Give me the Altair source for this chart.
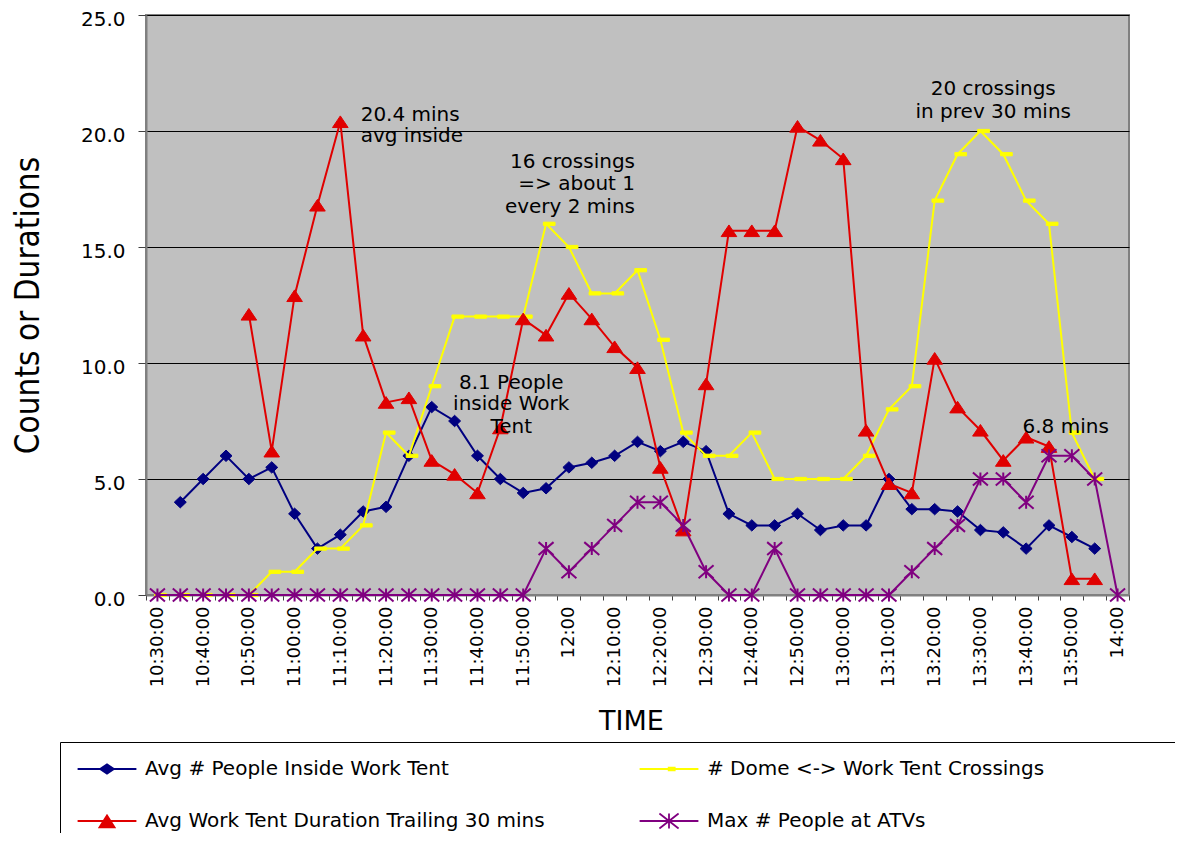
import json
import altair as alt
import pandas as pd

# ---------------- data ----------------
times = [
    "10:30:00", "10:35:00", "10:40:00", "10:45:00", "10:50:00", "10:55:00",
    "11:00:00", "11:05:00", "11:10:00", "11:15:00", "11:20:00", "11:25:00",
    "11:30:00", "11:35:00", "11:40:00", "11:45:00", "11:50:00", "11:55:00",
    "12:00:00", "12:05:00", "12:10:00", "12:15:00", "12:20:00", "12:25:00",
    "12:30:00", "12:35:00", "12:40:00", "12:45:00", "12:50:00", "12:55:00",
    "13:00:00", "13:05:00", "13:10:00", "13:15:00", "13:20:00", "13:25:00",
    "13:30:00", "13:35:00", "13:40:00", "13:45:00", "13:50:00", "13:55:00",
    "14:00:00",
]
tick_labels = [
    "10:30:00", "", "10:40:00", "", "10:50:00", "",
    "11:00:00", "", "11:10:00", "", "11:20:00", "",
    "11:30:00", "", "11:40:00", "", "11:50:00", "",
    "12:00", "", "12:10:00", "", "12:20:00", "",
    "12:30:00", "", "12:40:00", "", "12:50:00", "",
    "13:00:00", "", "13:10:00", "", "13:20:00", "",
    "13:30:00", "", "13:40:00", "", "13:50:00", "",
    "14:00",
]
avg_people = [
    None, 4.0, 5.0, 6.0, 5.0, 5.5, 3.5, 2.0, 2.6, 3.6, 3.8, 6.0,
    8.1, 7.5, 6.0, 5.0, 4.4, 4.6, 5.5, 5.7, 6.0, 6.6, 6.2, 6.6,
    6.2, 3.5, 3.0, 3.0, 3.5, 2.8, 3.0, 3.0, 5.0, 3.7, 3.7, 3.6,
    2.8, 2.7, 2.0, 3.0, 2.5, 2.0, None,
]
crossings = [
    0, 0, 0, 0, 0, 1, 1, 2, 2, 3, 7, 6,
    9, 12, 12, 12, 12, 16, 15, 13, 13, 14, 11, 7,
    6, 6, 7, 5, 5, 5, 5, 6, 8, 9, 17, 19,
    20, 19, 17, 16, 7, 5, None,
]
avg_duration = [
    None, None, None, None, 12.1, 6.2, 12.9, 16.8, 20.4, 11.2, 8.3, 8.5,
    5.8, 5.2, 4.4, 7.2, 11.9, 11.2, 13.0, 11.9, 10.7, 9.8, 5.5, 2.8,
    9.1, 15.7, 15.7, 15.7, 20.2, 19.6, 18.8, 7.1, 4.8, 4.4, 10.2, 8.1,
    7.1, 5.8, 6.8, 6.4, 0.7, 0.7, None,
]
max_atv = [
    0, 0, 0, 0, 0, 0, 0, 0, 0, 0, 0, 0,
    0, 0, 0, 0, 0, 2, 1, 2, 3, 4, 4, 3,
    1, 0, 0, 2, 0, 0, 0, 0, 0, 1, 2, 3,
    5, 5, 4, 6, 6, 5, 0,
]

series_names = [
    "Avg # People Inside Work Tent",
    "# Dome <-> Work Tent Crossings",
    "Avg Work Tent Duration Trailing 30 mins",
    "Max # People at ATVs",
]
series_values = [avg_people, crossings, avg_duration, max_atv]

ann_text = ["20.4 mins", "avg inside",
            "16 crossings", "=> about 1", "every 2 mins",
            "8.1 People", "inside Work", "Tent",
            "20 crossings", "in prev 30 mins",
            "6.8 mins"]
ann_time = ["11:15:00", "11:15:00",
            "12:15:00", "12:15:00", "12:15:00",
            "11:50:00", "11:50:00", "11:50:00",
            "13:35:00", "13:35:00",
            "13:40:00"]
ann_value = [20.7, 19.8,
             18.68, 17.72, 16.74,
             9.15, 8.23, 7.25,
             21.79, 20.82,
             7.22]
ann_group = [0, 0, 1, 1, 1, 2, 2, 2, 3, 3, 4]

# ---------------- styles ----------------
FONT = "DejaVu Sans"
W, H = 983, 580
series_colors = ["#000080", "#FFFF00", "#E00000", "#800080"]
marker_paths = [
    "M0,-0.95 L1,0 L0,0.95 L-1,0 Z",
    "M-0.45,-0.27 L1.5,-0.27 L1.5,0.27 L-0.45,0.27 Z",
    "M0,-0.97 L1.3,0.97 L-1.3,0.97 Z",
    "M-1.25,-1.08 L1.25,1.08 M-1.25,1.08 L1.25,-1.08 M0,-1.08 L0,1.08",
]
marker_stroke_w = [1, 1, 1, 2]

# legend symbols: filled line segment + filled marker (same winding for all parts)
LINE = "M-4.9,-0.17 L-4.9,0.17 L4.9,0.17 L4.9,-0.17 Z "
legend_paths = [
    LINE + "M0,-0.97 L-1.42,0 L0,0.97 L1.42,0 Z",
    LINE + "M-0.2,-0.36 L-0.2,0.36 L1.1,0.36 L1.1,-0.36 Z",
    LINE + "M0,-1.19 L-1.53,1.19 L1.53,1.19 Z",
    LINE + "M-1.692,-1.132 L1.508,1.368 L1.692,1.132 L-1.508,-1.368 Z "
           "M-1.508,1.368 L1.692,-1.132 L1.508,-1.368 L-1.692,1.132 Z "
           "M-0.15,-1.25 L-0.15,1.25 L0.15,1.25 L0.15,-1.25 Z",
]
legend_order = [0, 2, 1, 3]  # legend fills column by column
ann_styles = [("left", -2.5), ("right", -2.5), ("center", -12), ("center", -10), ("left", -3.6)]

# ---------------- tables ----------------
rows = []
for name, vals in zip(series_names, series_values):
    for t, v in zip(times, vals):
        if v is not None:
            rows.append({"time": t, "value": v, "series": name})
df = pd.DataFrame(rows)
ann_df = pd.DataFrame({"time": ann_time, "value": ann_value, "text": ann_text, "group": ann_group})

label_expr = json.dumps(tick_labels) + "[indexof(" + json.dumps(times) + ", datum.value)]"

x_enc = alt.X(
    "time:O", sort=times,
    scale=alt.Scale(type="band", domain=times, paddingInner=0, paddingOuter=0),
    axis=alt.Axis(
        title="TIME", labelExpr=label_expr, labelAngle=270, labelAlign="right",
        labelBaseline="middle", labelFont=FONT, labelFontSize=18, labelPadding=6,
        labelOverlap=False, labelColor="black", tickBand="extent", tickSize=5,
        tickColor="#404040", domainColor="#808080", domainWidth=2, grid=False,
        titleFont=FONT, titleFontSize=27, titleFontWeight="normal", titleColor="black",
        titleX=485, titleY=134, titleBaseline="alphabetic", titleAlign="center",
    ),
)
y_enc = alt.Y(
    "value:Q",
    scale=alt.Scale(domain=[0, 25], nice=False, zero=True),
    axis=alt.Axis(
        title="Counts or Durations", values=[0, 5, 10, 15, 20, 25], format=".1f",
        labelFont=FONT, labelFontSize=20, labelPadding=13, labelOffset=4, labelColor="black",
        tickSize=8, tickColor="#404040", domainColor="#808080", domainWidth=2,
        grid=True, gridColor="black", gridWidth=1, gridOpacity=1,
        titleFont="DejaVu Sans Condensed, DejaVu Sans, sans-serif",
        titleFontSize=33, titleFontWeight="normal", titleColor="black",
        titleX=-118, titleY=290, titleAngle=270, titleBaseline="middle", titleAlign="center",
    ),
)

layers = []
for name, color, path, sw in zip(series_names, series_colors, marker_paths, marker_stroke_w):
    sub = alt.Chart(df).transform_filter(alt.datum.series == name)
    layers.append(sub.mark_line(color=color, strokeWidth=2).encode(x=x_enc, y=y_enc))
    layers.append(
        sub.mark_point(shape=path, size=144, filled=True, fill=color, stroke=color,
                       strokeWidth=sw, opacity=1).encode(x=x_enc, y=y_enc)
    )

leg = alt.Legend(
    title="\u00a0", titleOpacity=0, titleOrient="right", titlePadding=150,
    orient="none", legendX=-86, legendY=727, columns=2,
    symbolSize=144, symbolStrokeWidth=0, symbolOpacity=1, symbolOffset=20, labelOffset=28,
    labelFont=FONT, labelFontSize=20, labelColor="black", labelLimit=1000,
    rowPadding=32, columnPadding=94, padding=17, strokeColor="black",
)
leg_domain = [series_names[i] for i in legend_order]
# legend-only layer: no row passes the filter, the legend comes from the scales
legend_layer = alt.Chart(df).transform_filter(alt.datum.value < -1).mark_point(
    filled=True, opacity=1
).encode(
    x=x_enc, y=y_enc,
    color=alt.Color("series:N", scale=alt.Scale(domain=leg_domain,
                    range=[series_colors[i] for i in legend_order]), legend=leg),
    shape=alt.Shape("series:N", scale=alt.Scale(domain=leg_domain,
                    range=[legend_paths[i] for i in legend_order]), legend=leg),
)
layers.append(legend_layer)

for g, (align, dx) in enumerate(ann_styles):
    layers.append(
        alt.Chart(ann_df).transform_filter(alt.datum.group == g).mark_text(
            align=align, baseline="middle", dx=dx, font=FONT, fontSize=20, color="black"
        ).encode(x=x_enc, y=y_enc, text="text:N")
    )

chart = alt.layer(*layers).properties(
    width=W, height=H,
    autosize=alt.AutoSizeParams(type="none"),
    padding={"left": 138, "top": 7, "right": 46, "bottom": 238},
    background="white",
).configure_view(fill="#C0C0C0", stroke="#808080", strokeWidth=2)

chart.save("out.html", embed_options={"renderer": "svg", "actions": False})
